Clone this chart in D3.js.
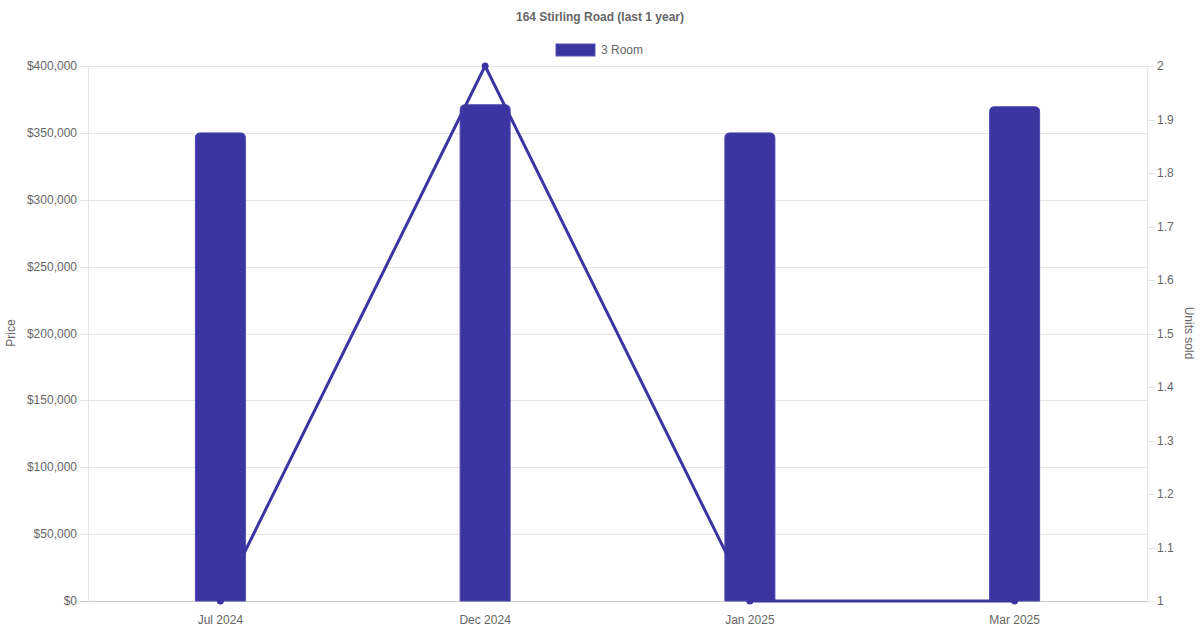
<!DOCTYPE html>
<html><head><meta charset="utf-8">
<script src="https://cdn.jsdelivr.net/npm/d3@7"></script>
<style>body{margin:0;background:#fff;font-family:"Liberation Sans",Arial,sans-serif;}</style>
</head><body><svg id="c" width="1200" height="630"></svg>
<script>
const categories = ["Jul 2024","Dec 2024","Jan 2025","Mar 2025"];
const prices = [350000, 371000, 350000, 369500];
const units = [1, 2, 1, 1];
const priceTicks = [0,50000,100000,150000,200000,250000,300000,350000,400000];
const unitTicks = [1,1.1,1.2,1.3,1.4,1.5,1.6,1.7,1.8,1.9,2];
const seriesName = "3 Room";
const title = "164 Stirling Road (last 1 year)";

const svg = d3.select("#c");
const L=88,R=1147,T=66,B=601;
const color="#3a35a0", txt="#666", grid="#e5e5e5";
const x = d3.scaleBand().domain(categories).range([L,R]);
const yL = d3.scaleLinear().domain([0,400000]).range([B,T]);
const yR = d3.scaleLinear().domain([1,2]).range([B,T]);

svg.append("text").attr("x",600).attr("y",21).attr("text-anchor","middle")
  .attr("font-size",12).attr("font-weight","bold").attr("fill",txt).text(title);
svg.append("rect").attr("x",556).attr("y",44).attr("width",39).attr("height",12).attr("fill",color).attr("stroke","#5550b8").attr("stroke-width",1);
svg.append("text").attr("x",601).attr("y",54).attr("font-size",12).attr("fill",txt).text(seriesName);

// grid
svg.append("g").selectAll("line").data(priceTicks).join("line")
  .attr("x1",L-8).attr("x2",R).attr("y1",d=>Math.round(yL(d))+0.5).attr("y2",d=>Math.round(yL(d))+0.5)
  .attr("stroke",d=>d===0?"#ccc":grid);
svg.append("line").attr("x1",L+0.5).attr("x2",L+0.5).attr("y1",T).attr("y2",B+1).attr("stroke",grid);
svg.append("line").attr("x1",R+0.5).attr("x2",R+0.5).attr("y1",T).attr("y2",B+1).attr("stroke",grid);
svg.append("g").selectAll("line").data(unitTicks).join("line")
  .attr("x1",R).attr("x2",R+8).attr("y1",d=>Math.round(yR(d))+0.5).attr("y2",d=>Math.round(yR(d))+0.5).attr("stroke",grid);

const fmt = d=>"$"+d3.format(",")(d);
svg.append("g").selectAll("text").data(priceTicks).join("text")
  .attr("x",77).attr("y",d=>yL(d)+4).attr("text-anchor","end").attr("font-size",12).attr("fill",txt).text(fmt);
svg.append("g").selectAll("text").data(unitTicks).join("text")
  .attr("x",1157).attr("y",d=>yR(d)+4).attr("font-size",12).attr("fill",txt).text(d=>d3.format("~g")(d));
svg.append("g").selectAll("text").data(categories).join("text")
  .attr("x",d=>x(d)+x.bandwidth()/2).attr("y",624).attr("text-anchor","middle").attr("font-size",12).attr("fill",txt).text(d=>d);

svg.append("text").attr("transform","translate(15,333) rotate(-90)").attr("text-anchor","middle").attr("font-size",12).attr("fill",txt).text("Price");
svg.append("text").attr("transform","translate(1185,333) rotate(90)").attr("text-anchor","middle").attr("font-size",12).attr("fill",txt).text("Units sold");

// bars
const bw=50, r=5;
svg.append("g").selectAll("path").data(categories).join("path")
  .attr("d",(d,i)=>{
    const cx=x(d)+x.bandwidth()/2, x0=cx-bw/2, x1=cx+bw/2, y0=yL(prices[i]), yb=yL(0);
    return `M${x0},${yb}V${y0+r}Q${x0},${y0} ${x0+r},${y0}H${x1-r}Q${x1},${y0} ${x1},${y0+r}V${yb}Z`;
  }).attr("fill",color).attr("stroke","#4a46b0").attr("stroke-width",1);

// line
const line = d3.line().x((d,i)=>x(categories[i])+x.bandwidth()/2).y(d=>yR(d));
svg.append("path").datum(units).attr("d",line).attr("fill","none").attr("stroke",color).attr("stroke-width",3);
svg.append("g").selectAll("circle").data(units).join("circle")
  .attr("cx",(d,i)=>x(categories[i])+x.bandwidth()/2).attr("cy",d=>yR(d)).attr("r",3.5).attr("fill",color);
</script></body></html>
